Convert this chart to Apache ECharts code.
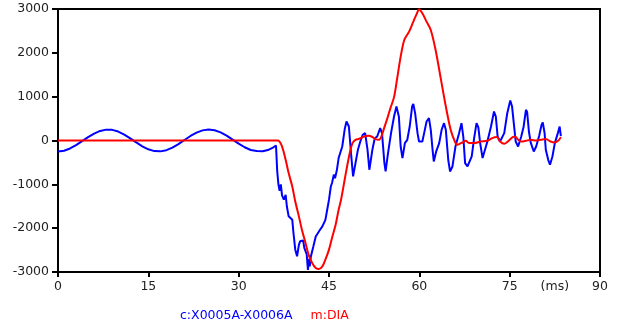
<!DOCTYPE html>
<html>
<head>
<meta charset="utf-8">
<script src="https://cdn.jsdelivr.net/npm/echarts@6/dist/echarts.min.js"></script>
<style>html,body{margin:0;padding:0;background:#fff}#c{width:617px;height:331px}</style>
</head>
<body>
<div id="c"></div>
<script>
var blueName = 'c:X0005A-X0006A';
var redName = 'm:DIA';
var xTicks = [0, 15, 30, 45, 60, 75, 90];
var xLabelValues = [0, 15, 30, 45, 60, 75, 82.5, 90];
var xUnitLabel = '(ms)';

var blueT = [0,1,2,3,4,5,6,7,8,9,10,11,12,13,14,15,16,17,18,19,20,21,22,23,24,25,26,27,28,29,30,31,32,33,34,35,35.7,36.2,
  36.4,36.6,36.8,37.0,37.2,37.5,37.8,38.0,38.3,38.6,38.9,39.1,39.4,39.7,40.0,40.2,40.5,40.7,40.9,41.3,41.5,41.7,41.8,42.0,42.4,42.8,43.1,43.4,43.6,43.9,44.1,44.4,44.7,45.0,45.3,45.5,45.8,46.0,46.3,46.6,47.2,47.6,47.9,48.3,48.7,49.0,49.4,49.8,50.2,50.6,51.0,51.4,51.7,52.2,52.6,53.0,53.5,53.8,54.2,54.4,54.8,55.3,55.8,56.2,56.6,56.9,57.2,57.6,58.0,58.4,58.8,59.0,59.3,59.7,59.95,60.2,60.5,60.8,61.2,61.6,61.9,62.2,62.4,62.8,63.3,63.7,64.1,64.4,64.8,65.1,65.5,66.0,66.6,67.0,67.3,67.6,68.0,68.3,68.7,69.1,69.5,69.8,70.1,70.5,70.9,71.3,71.9,72.4,72.7,73.0,73.4,73.7,74.1,74.6,75.1,75.4,75.8,76.0,76.4,76.9,77.3,77.7,77.9,78.2,78.5,79.0,79.4,79.9,80.3,80.5,80.8,81.0,81.4,81.7,82.1,82.5,83.0,83.3,83.5];
var blueV = [-250,-233,-182,-107,-16,76,158,218,248,243,204,136,49,-44,-132,-201,-242,-248,-221,-163,-84,11,103,180,231,250,234,186,111,21,-72,-154,-216,-240,-245,-210,-160,-115,
  -700,-1000,-1150,-1000,-1250,-1350,-1240,-1500,-1730,-1700,-1810,-2110,-2490,-2640,-2380,-2300,-2340,-2280,-2450,-2600,-2950,-2700,-2870,-2640,-2420,-2190,-2150,-2060,-2030,-1960,-2000,-1810,-1580,-1350,-1050,-970,-780,-860,-680,-400,-137,250,433,319,-364,-820,-515,-212,-23,130,168,-212,-667,-212,50,91,282,168,-515,-706,-288,168,547,775,550,-137,-401,-59,16,319,775,836,624,168,-23,10,-23,168,433,510,244,-212,-478,-250,-59,244,396,244,-440,-706,-592,-137,168,396,91,-515,-592,-592,-364,55,396,300,-59,-401,-212,-23,319,661,547,91,-23,-59,168,624,911,775,244,-23,-137,80,300,700,650,200,-50,-250,-137,110,358,410,168,-212,-440,-553,-364,-59,168,319,100];

var redT = [0,36.5,37.2,37.8,38.3,38.9,39.4,40.0,40.5,41.1,41.6,42.2,42.8,43.3,43.9,44.4,45.0,45.5,46.1,46.6,47.0,47.6,48.0,48.5,48.9,49.4,50.0,50.8,51.6,52.2,52.7,53.3,53.7,54.1,54.7,55.2,55.8,56.3,56.9,57.5,58.3,59.0,59.6,59.95,60.5,61.2,61.9,62.7,63.6,64.4,65.2,65.9,66.3,66.9,67.2,67.7,68.3,69.1,70.2,71.3,72.1,72.9,73.4,74.1,74.7,75.5,75.9,76.4,76.9,77.7,78.5,79.4,80.2,81.0,81.8,82.4,83.1,83.5];
var redV = [0,0,-137,-440,-743,-1048,-1390,-1731,-2034,-2337,-2604,-2793,-2907,-2930,-2870,-2718,-2490,-2223,-1920,-1579,-1351,-895,-592,-250,-59,16,39,91,107,80,32,16,91,260,510,738,990,1400,1914,2294,2483,2711,2902,2993,2902,2711,2522,2066,1383,775,244,-23,-98,-59,-46,-7,-59,-59,-23,-7,55,77,-23,-75,-23,77,91,20,-23,-7,16,0,16,32,-23,-46,0,77];

function zip(a, b) { return a.map(function (v, i) { return [v, b[i]]; }); }

var chart = echarts.init(document.getElementById('c'), null, { renderer: 'canvas' });
var font = 'DejaVu Sans';
chart.setOption({
  animation: false,
  backgroundColor: '#fff',
  grid: { left: 58, right: 17, top: 9, bottom: 59, show: true, borderColor: '#000', borderWidth: 2, backgroundColor: 'transparent' },
  legend: {
    bottom: 4, left: 170, icon: 'none', itemWidth: 0, itemHeight: 0, itemGap: 13,
    textStyle: { fontFamily: font, fontSize: 12.5 },
    data: [
      { name: blueName, textStyle: { color: '#0000ff' } },
      { name: redName, textStyle: { color: '#ff0000' } }
    ]
  },
  xAxis: {
    type: 'value', min: 0, max: 90, interval: 15,
    axisLine: { show: true, onZero: false, lineStyle: { color: '#000', width: 2 } },
    axisTick: { show: true, length: 5, lineStyle: { color: '#000', width: 2 }, customValues: xTicks },
    splitLine: { show: false },
    axisLabel: {
      color: '#222', fontFamily: font, fontSize: 12.5, margin: 8,
      customValues: xLabelValues,
      formatter: function (v) { return v === 82.5 ? xUnitLabel : String(v); }
    }
  },
  yAxis: {
    type: 'value', min: -3000, max: 3000, interval: 1000,
    axisLine: { show: true, onZero: false, lineStyle: { color: '#000', width: 2 } },
    axisTick: { show: true, length: 6, lineStyle: { color: '#000', width: 2 } },
    splitLine: { show: false },
    axisLabel: { color: '#222', fontFamily: font, fontSize: 12.5, margin: 9, formatter: function (v) { return String(v); } }
  },
  series: [
    { name: blueName, type: 'line', data: zip(blueT, blueV), showSymbol: false, symbol: 'none',
      lineStyle: { color: '#0000ff', width: 2 }, itemStyle: { color: '#0000ff' } },
    { name: redName, type: 'line', data: zip(redT, redV), showSymbol: false, symbol: 'none', smooth: 0.3,
      lineStyle: { color: '#ff0000', width: 2 }, itemStyle: { color: '#ff0000' } }
  ]
});
</script>
</body>
</html>
